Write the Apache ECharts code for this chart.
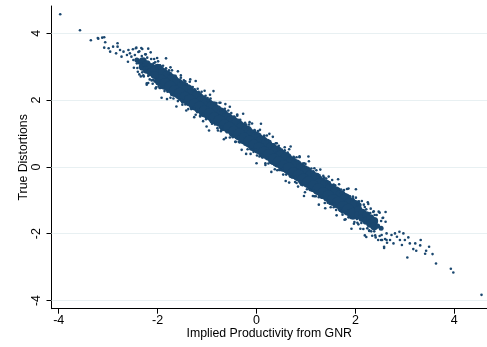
<!DOCTYPE html>
<html>
<head>
<meta charset="utf-8">
<script src="https://cdn.jsdelivr.net/npm/echarts@6/dist/echarts.min.js"></script>
<style>
html,body{margin:0;padding:0;background:#fff;}
#c{width:487px;height:347px;}
</style>
</head>
<body>
<div id="c"></div>
<script>
// Axis ticks
const xTicks = [-4, -2, 0, 2, 4];
const yTicks = [-4, -2, 0, 2, 4];

// Dense centre of the cloud (drawn with larger markers so the band looks solid)
const coreUpper = [[-2.0,2.91],[-1.9,2.79],[-1.8,2.70],[-1.7,2.60],[-1.6,2.48],[-1.5,2.39],[-1.4,2.30],[-1.3,2.18],[-1.2,2.09],[-1.1,1.97],[-1.0,1.88],[-0.9,1.79],[-0.8,1.67],[-0.7,1.58],[-0.6,1.46],[-0.5,1.37],[-0.4,1.28],[-0.3,1.16],[-0.2,1.07],[-0.1,0.95],[0.0,0.87],[0.1,0.76],[0.2,0.67],[0.3,0.54],[0.4,0.46],[0.5,0.34],[0.6,0.26],[0.7,0.14],[0.8,0.05],[0.9,-0.07],[1.0,-0.15],[1.1,-0.27],[1.2,-0.35],[1.3,-0.48],[1.4,-0.56],[1.5,-0.68],[1.6,-0.76],[1.7,-0.88],[1.8,-0.97],[1.9,-1.09],[2.0,-1.17]];
const coreLower = [[-1.95,2.60],[-1.85,2.48],[-1.75,2.40],[-1.65,2.27],[-1.55,2.19],[-1.45,2.07],[-1.35,1.99],[-1.25,1.87],[-1.15,1.78],[-1.05,1.66],[-0.95,1.58],[-0.85,1.46],[-0.75,1.38],[-0.65,1.25],[-0.55,1.17],[-0.45,1.05],[-0.35,0.97],[-0.25,0.85],[-0.15,0.76],[-0.05,0.64],[0.05,0.56],[0.15,0.44],[0.25,0.36],[0.35,0.23],[0.45,0.15],[0.55,0.03],[0.65,-0.05],[0.75,-0.18],[0.85,-0.26],[0.95,-0.38],[1.05,-0.46],[1.15,-0.58],[1.25,-0.67],[1.35,-0.79],[1.45,-0.87],[1.55,-0.99],[1.65,-1.07],[1.75,-1.20],[1.85,-1.28],[1.95,-1.40]];
const coreEnds = [[-2.30,3.16],[-2.30,3.00],[-2.22,3.07],[-2.22,2.91],[-2.14,2.99],[-2.14,2.83],[-2.06,2.91],[-2.06,2.75],[2.06,-1.29],[2.06,-1.45],[2.14,-1.37],[2.14,-1.53],[2.22,-1.45],[2.22,-1.61],[2.30,-1.54],[2.30,-1.70],[2.38,-1.62],[2.38,-1.78]];
const coreTips = [[-2.42,3.20],[-2.36,3.13],[2.45,-1.77],[2.52,-1.84]];

// Individual observations at the edges and tails of the cloud
const edgeUpper = [[-2.50,3.52],[-2.44,3.55],[-2.39,3.44],[-2.33,3.56],[-2.32,3.32],[-2.24,3.37],[-2.21,3.27],[-2.14,3.43],[-2.08,3.10],[-2.05,3.13],[-1.99,3.16],[-1.96,2.96],[-1.90,2.95],[-1.83,2.95],[-1.78,2.81],[-1.74,2.98],[-1.70,2.70],[-1.64,2.73],[-1.61,2.64],[-1.53,2.74],[-1.52,2.50],[-1.44,2.56],[-1.41,2.46],[-1.34,2.62],[-1.28,2.29],[-1.25,2.32],[-1.19,2.34],[-1.16,2.14],[-1.10,2.13],[-1.03,2.13],[-0.98,1.99],[-0.94,2.16],[-0.90,1.89],[-0.84,1.92],[-0.81,1.83],[-0.73,1.92],[-0.72,1.68],[-0.64,1.74],[-0.61,1.64],[-0.54,1.80],[-0.48,1.47],[-0.45,1.50],[-0.39,1.53],[-0.36,1.33],[-0.30,1.32],[-0.23,1.32],[-0.18,1.17],[-0.14,1.34],[-0.10,1.07],[-0.04,1.10],[-0.01,1.01],[0.07,1.11],[0.10,0.85],[0.16,0.93],[0.19,0.83],[0.26,0.99],[0.32,0.65],[0.35,0.68],[0.41,0.71],[0.44,0.51],[0.50,0.50],[0.57,0.50],[0.62,0.36],[0.66,0.53],[0.70,0.26],[0.76,0.28],[0.79,0.19],[0.87,0.29],[0.91,0.02],[0.96,0.11],[1.00,0.00],[1.06,0.17],[1.12,-0.16],[1.15,-0.13],[1.21,-0.10],[1.24,-0.30],[1.30,-0.32],[1.37,-0.32],[1.42,-0.46],[1.46,-0.29],[1.50,-0.56],[1.56,-0.53],[1.59,-0.62],[1.67,-0.52],[1.71,-0.79],[1.76,-0.71],[1.80,-0.82],[1.86,-0.65],[1.92,-0.98],[1.95,-0.95],[2.01,-0.92],[2.04,-1.12],[2.10,-1.13],[2.17,-1.13],[2.22,-1.27],[2.26,-1.11],[2.30,-1.38],[2.36,-1.35],[2.39,-1.44],[2.47,-1.34],[2.52,-1.62],[2.56,-1.52],[2.61,-1.64]];
const edgeLower = [[-2.48,2.97],[-2.41,2.96],[-2.37,2.77],[-2.31,2.83],[-2.29,2.74],[-2.22,2.50],[-2.19,2.72],[-2.12,2.59],[-2.06,2.56],[-2.03,2.38],[-1.97,2.52],[-1.94,2.36],[-1.88,2.40],[-1.81,2.03],[-1.76,2.25],[-1.72,2.16],[-1.68,2.15],[-1.62,2.15],[-1.59,1.97],[-1.51,2.01],[-1.50,1.93],[-1.42,1.69],[-1.39,1.91],[-1.32,1.78],[-1.26,1.75],[-1.23,1.56],[-1.17,1.70],[-1.14,1.54],[-1.08,1.58],[-1.01,1.21],[-0.96,1.43],[-0.92,1.35],[-0.88,1.34],[-0.82,1.34],[-0.79,1.16],[-0.71,1.19],[-0.70,1.11],[-0.62,0.87],[-0.59,1.09],[-0.52,0.96],[-0.46,0.93],[-0.43,0.75],[-0.37,0.89],[-0.34,0.73],[-0.28,0.77],[-0.21,0.39],[-0.16,0.61],[-0.12,0.53],[-0.08,0.52],[-0.02,0.52],[0.01,0.34],[0.09,0.38],[0.12,0.28],[0.18,0.06],[0.21,0.28],[0.28,0.14],[0.34,0.11],[0.37,-0.07],[0.43,0.07],[0.46,-0.09],[0.52,-0.05],[0.59,-0.42],[0.64,-0.20],[0.68,-0.28],[0.72,-0.29],[0.78,-0.30],[0.81,-0.48],[0.89,-0.44],[0.93,-0.55],[0.98,-0.76],[1.02,-0.55],[1.08,-0.67],[1.14,-0.70],[1.17,-0.88],[1.23,-0.74],[1.26,-0.91],[1.32,-0.87],[1.39,-1.24],[1.44,-1.02],[1.48,-1.10],[1.52,-1.11],[1.58,-1.11],[1.61,-1.29],[1.69,-1.25],[1.73,-1.36],[1.78,-1.58],[1.82,-1.37],[1.88,-1.49],[1.94,-1.52],[1.97,-1.70],[2.03,-1.56],[2.06,-1.72],[2.12,-1.68],[2.19,-2.05],[2.24,-1.84],[2.28,-1.92],[2.32,-1.93],[2.38,-1.93],[2.41,-2.11],[2.49,-2.07],[2.54,-2.19],[2.58,-2.39],[2.63,-2.19]];
const outerUpper = [[-2.43,3.57],[-2.37,3.46],[-2.31,3.53],[-2.25,3.37],[-2.19,3.54],[-2.13,3.23],[-2.07,3.23],[-2.01,3.26],[-1.95,3.04],[-1.89,3.03],[-1.83,3.25],[-1.77,2.89],[-1.71,2.89],[-1.65,2.71],[-1.59,2.86],[-1.53,2.67],[-1.47,2.59],[-1.41,2.48],[-1.35,2.55],[-1.29,2.39],[-1.23,2.57],[-1.17,2.25],[-1.11,2.25],[-1.05,2.28],[-0.99,2.06],[-0.93,2.05],[-0.87,2.27],[-0.81,1.91],[-0.75,1.92],[-0.69,1.73],[-0.63,1.88],[-0.57,1.69],[-0.51,1.61],[-0.45,1.50],[-0.39,1.57],[-0.33,1.41],[-0.27,1.59],[-0.21,1.27],[-0.15,1.27],[-0.09,1.30],[-0.03,1.08],[0.03,1.07],[0.09,1.29],[0.15,0.93],[0.21,0.94],[0.27,0.76],[0.33,0.90],[0.39,0.71],[0.45,0.63],[0.51,0.52],[0.57,0.59],[0.63,0.43],[0.69,0.61],[0.75,0.30],[0.81,0.29],[0.87,0.32],[0.93,0.10],[0.99,0.09],[1.05,0.31],[1.11,-0.05],[1.17,-0.04],[1.23,-0.22],[1.29,-0.08],[1.35,-0.27],[1.41,-0.35],[1.47,-0.46],[1.53,-0.39],[1.59,-0.55],[1.65,-0.37],[1.71,-0.68],[1.77,-0.69],[1.83,-0.66],[1.89,-0.88],[1.95,-0.89],[2.01,-0.67],[2.07,-1.03],[2.13,-1.02],[2.19,-1.20],[2.25,-1.06],[2.31,-1.25],[2.37,-1.33],[2.43,-1.44],[2.49,-1.37],[2.55,-1.53],[2.61,-1.35]];
const outerLower = [[-2.40,2.85],[-2.34,2.71],[-2.28,2.71],[-2.22,2.46],[-2.16,2.62],[-2.10,2.49],[-2.04,2.35],[-1.98,2.41],[-1.92,2.07],[-1.86,2.27],[-1.80,2.25],[-1.74,2.07],[-1.68,2.05],[-1.62,1.81],[-1.56,2.02],[-1.50,1.86],[-1.44,1.87],[-1.38,1.73],[-1.32,1.73],[-1.26,1.49],[-1.20,1.64],[-1.14,1.51],[-1.08,1.37],[-1.02,1.43],[-0.96,1.09],[-0.90,1.29],[-0.84,1.27],[-0.78,1.09],[-0.72,1.07],[-0.66,0.83],[-0.60,1.04],[-0.54,0.88],[-0.48,0.89],[-0.42,0.75],[-0.36,0.75],[-0.30,0.51],[-0.24,0.67],[-0.18,0.53],[-0.12,0.39],[-0.06,0.45],[0.00,0.11],[0.06,0.31],[0.12,0.29],[0.18,0.11],[0.24,0.10],[0.30,-0.15],[0.36,0.06],[0.42,-0.10],[0.48,-0.09],[0.54,-0.23],[0.60,-0.23],[0.66,-0.47],[0.72,-0.31],[0.78,-0.45],[0.84,-0.59],[0.90,-0.53],[0.96,-0.87],[1.02,-0.67],[1.08,-0.69],[1.14,-0.87],[1.20,-0.88],[1.26,-1.13],[1.32,-0.92],[1.38,-1.08],[1.44,-1.07],[1.50,-1.21],[1.56,-1.21],[1.62,-1.45],[1.68,-1.29],[1.74,-1.43],[1.80,-1.57],[1.86,-1.51],[1.92,-1.85],[1.98,-1.65],[2.04,-1.67],[2.10,-1.85],[2.16,-1.86],[2.22,-2.10],[2.28,-1.90],[2.34,-2.06],[2.40,-2.05],[2.46,-2.19],[2.52,-2.19],[2.58,-2.43],[2.64,-2.27]];
const tailTop = [[-3.97,4.57],[-3.57,4.09],[-3.35,3.79],[-3.21,3.86],[-3.20,3.84],[-3.12,3.87],[-3.08,3.88],[-3.06,3.73],[-3.08,3.57],[-2.99,3.55],[-2.96,3.45],[-2.90,3.60],[-2.81,3.70],[-2.81,3.60],[-2.84,3.40],[-2.76,3.50],[-2.69,3.45],[-2.59,3.50],[-2.56,3.40],[-2.62,3.35],[-2.73,3.30],[-2.53,3.30],[-2.46,3.35],[-2.49,3.20],[-2.60,3.15],[-2.42,3.10],[-2.36,3.15],[-2.29,3.05],[-2.22,2.96],[-2.19,2.51],[-2.12,3.05],[-2.02,2.96],[-2.09,2.60],[-1.96,2.36]];
const tailBottom = [[4.55,-3.83],[3.93,-3.05],[3.98,-3.16],[3.63,-2.89],[3.56,-2.61],[3.49,-2.39],[3.43,-2.51],[3.41,-2.60],[3.32,-2.19],[3.31,-2.35],[3.21,-2.29],[3.17,-2.46],[3.23,-2.51],[3.10,-2.29],[3.05,-2.71],[3.07,-2.11],[3.00,-2.19],[2.94,-2.34],[2.90,-2.19],[2.84,-2.09],[2.77,-2.29],[2.70,-2.19],[2.60,-2.16],[2.53,-2.04],[2.63,-1.99],[2.97,-1.99],[2.80,-1.99],[2.89,-1.94],[2.73,-2.04]];

const navy = '#1a476f';
const chart = echarts.init(document.getElementById('c'), null, {renderer: 'canvas'});
const font = 'Liberation Sans, Arial, Helvetica, sans-serif';

function dots(name, data, size) {
  return {
    name: name, type: 'scatter', data: data, symbol: 'circle', symbolSize: size,
    itemStyle: {color: navy, opacity: 1}, silent: true, z: 10,
    emphasis: {disabled: true}
  };
}

chart.setOption({
  animation: false,
  backgroundColor: '#ffffff',
  grid: {left: 51.5, right: 0, top: 6, bottom: 38.3, containLabel: false},
  xAxis: {
    type: 'value', min: -4.146, max: 4.661,
    name: 'Implied Productivity from GNR', nameLocation: 'middle', nameGap: 19, nameMoveOverlap: false,
    nameTextStyle: {fontFamily: font, fontSize: 12.3, color: '#000'},
    axisLine: {show: true, onZero: false, lineStyle: {color: '#000', width: 1}},
    axisTick: {show: true, length: 5, customValues: xTicks, lineStyle: {color: '#000'}},
    axisLabel: {customValues: xTicks, margin: 5, fontFamily: font, fontSize: 12.5, color: '#000'},
    splitLine: {show: false}
  },
  yAxis: {
    type: 'value', min: -4.245, max: 4.817,
    name: 'True Distortions', nameLocation: 'middle', nameGap: 22, nameMoveOverlap: false,
    nameTextStyle: {fontFamily: font, fontSize: 12.3, color: '#000'},
    axisLine: {show: true, onZero: false, lineStyle: {color: '#000', width: 1}},
    axisTick: {show: true, length: 5, customValues: yTicks, lineStyle: {color: '#000'}},
    axisLabel: {customValues: yTicks, rotate: 90, margin: 8, fontFamily: font, fontSize: 12.5, color: '#000'},
    splitLine: {show: false}
  },
  series: [
    {
      type: 'scatter', data: [], z: 1, silent: true,
      markLine: {
        silent: true, symbol: 'none', animation: false, z: 1,
        label: {show: false},
        lineStyle: {color: '#e8f0f2', width: 1, type: 'solid'},
        data: yTicks.map(v => ({yAxis: v}))
      }
    },
    dots('coreUpper', coreUpper, 12),
    dots('coreLower', coreLower, 12),
    dots('coreEnds', coreEnds, 8),
    dots('coreTips', coreTips, 5),
    dots('edgeUpper', edgeUpper, 2.6),
    dots('edgeLower', edgeLower, 2.6),
    dots('outerUpper', outerUpper, 2.6),
    dots('outerLower', outerLower, 2.6),
    dots('tailTop', tailTop, 2.6),
    dots('tailBottom', tailBottom, 2.6)
  ]
});
</script>
</body>
</html>
